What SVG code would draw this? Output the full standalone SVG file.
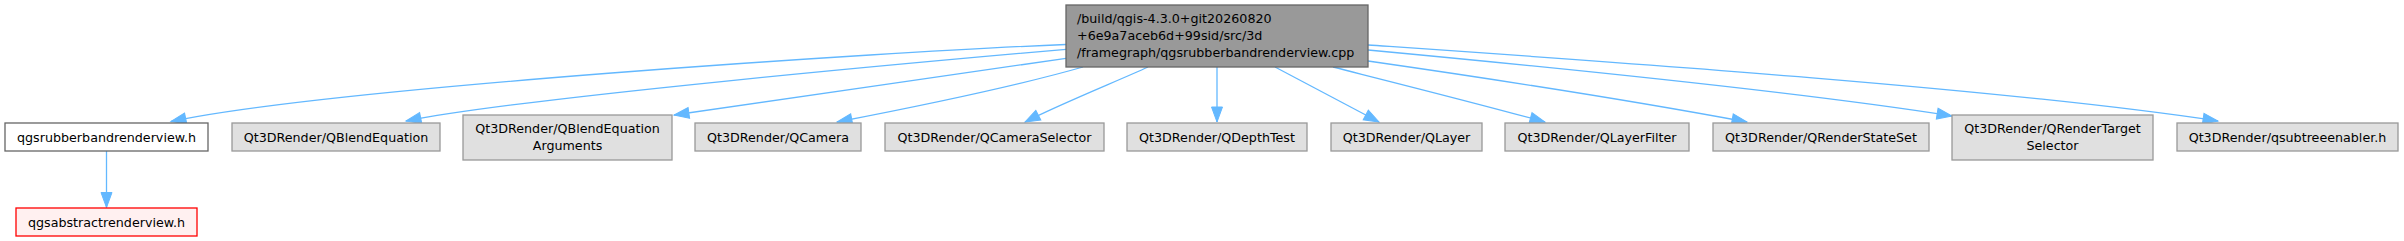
<svg xmlns="http://www.w3.org/2000/svg" width="2404" height="241" viewBox="0 0 2404 241">
<defs>
<style>
text{font-family:"DejaVu Sans","Liberation Sans",sans-serif;font-size:12.7px;fill:#000}
.c{text-anchor:middle}
.l{text-anchor:start}
.ext rect{fill:#e0e0e0;stroke:#999999;stroke-width:1.3}
.edge{fill:none;stroke:#63b8ff;stroke-width:1.3;marker-end:url(#arr)}
</style>
<marker id="arr" markerUnits="userSpaceOnUse" markerWidth="17" markerHeight="13" refX="15" refY="5.5" orient="auto" overflow="visible">
<path d="M0,0 L15,5.5 L0,11 z" fill="#63b8ff" stroke="#63b8ff" stroke-width="1"/>
</marker>
</defs>
<rect width="2404" height="241" fill="#ffffff"/>
<g id="connectors">
<path class="edge" d="M1066,44.5 C880,52 330,88 171,121.5"/>
<path class="edge" d="M1066,49.3 C920,62 520,98 406,121"/>
<path class="edge" d="M1066,58.3 C950,75 780,100 674,115"/>
<path class="edge" d="M1083,67 C1020,85 920,106 837,122"/>
<path class="edge" d="M1148,67 C1120,80 1060,104 1025,122"/>
<path class="edge" d="M1217,67 L1217,122"/>
<path class="edge" d="M1275,67 L1379,122"/>
<path class="edge" d="M1333,67 C1400,84 1480,104 1545,122"/>
<path class="edge" d="M1368,61 C1500,80 1640,102 1747,122"/>
<path class="edge" d="M1368,50 C1560,68 1800,92 1952,116"/>
<path class="edge" d="M1368,45 C1600,61 2000,88 2218,121"/>
<path class="edge" d="M106.5,151 L106.5,207.5"/>
</g>
<g id="node_main">
<rect x="1066" y="5" width="302" height="62" fill="#999999" stroke="#666666" stroke-width="1.3"/>
<text class="l" x="1077" y="23">/build/qgis-4.3.0+git20260820</text>
<text class="l" x="1077" y="40">+6e9a7aceb6d+99sid/src/3d</text>
<text class="l" x="1077" y="57">/framegraph/qgsrubberbandrenderview.cpp</text>
</g>
<g id="node_qgsrubberbandrenderview">
<rect x="5" y="123" width="203" height="28" fill="#ffffff" stroke="#666666" stroke-width="1.3"/>
<text class="c" x="106.5" y="141.5">qgsrubberbandrenderview.h</text>
</g>
<g id="node_qgsabstractrenderview">
<rect x="16" y="208" width="181" height="28" fill="#fff0f0" stroke="#ff0000" stroke-width="1.3"/>
<text class="c" x="106.5" y="226.5">qgsabstractrenderview.h</text>
</g>
<g id="node_QBlendEquation" class="ext">
<rect x="232" y="123" width="208" height="28"/>
<text class="c" x="336" y="141.5">Qt3DRender/QBlendEquation</text>
</g>
<g id="node_QBlendEquationArguments" class="ext">
<rect x="463" y="115" width="209" height="45"/>
<text class="c" x="567.5" y="133">Qt3DRender/QBlendEquation</text>
<text class="c" x="567.5" y="150">Arguments</text>
</g>
<g id="node_QCamera" class="ext">
<rect x="695" y="123" width="166" height="28"/>
<text class="c" x="778" y="141.5">Qt3DRender/QCamera</text>
</g>
<g id="node_QCameraSelector" class="ext">
<rect x="885" y="123" width="219" height="28"/>
<text class="c" x="994.5" y="141.5">Qt3DRender/QCameraSelector</text>
</g>
<g id="node_QDepthTest" class="ext">
<rect x="1127" y="123" width="180" height="28"/>
<text class="c" x="1217" y="141.5">Qt3DRender/QDepthTest</text>
</g>
<g id="node_QLayer" class="ext">
<rect x="1331" y="123" width="151" height="28"/>
<text class="c" x="1406.5" y="141.5">Qt3DRender/QLayer</text>
</g>
<g id="node_QLayerFilter" class="ext">
<rect x="1505" y="123" width="184" height="28"/>
<text class="c" x="1597" y="141.5">Qt3DRender/QLayerFilter</text>
</g>
<g id="node_QRenderStateSet" class="ext">
<rect x="1713" y="123" width="216" height="28"/>
<text class="c" x="1821" y="141.5">Qt3DRender/QRenderStateSet</text>
</g>
<g id="node_QRenderTargetSelector" class="ext">
<rect x="1952" y="115" width="201" height="45"/>
<text class="c" x="2052.5" y="133">Qt3DRender/QRenderTarget</text>
<text class="c" x="2052.5" y="150">Selector</text>
</g>
<g id="node_qsubtreeenabler" class="ext">
<rect x="2177" y="123" width="221" height="28"/>
<text class="c" x="2287.5" y="141.5">Qt3DRender/qsubtreeenabler.h</text>
</g>
</svg>
